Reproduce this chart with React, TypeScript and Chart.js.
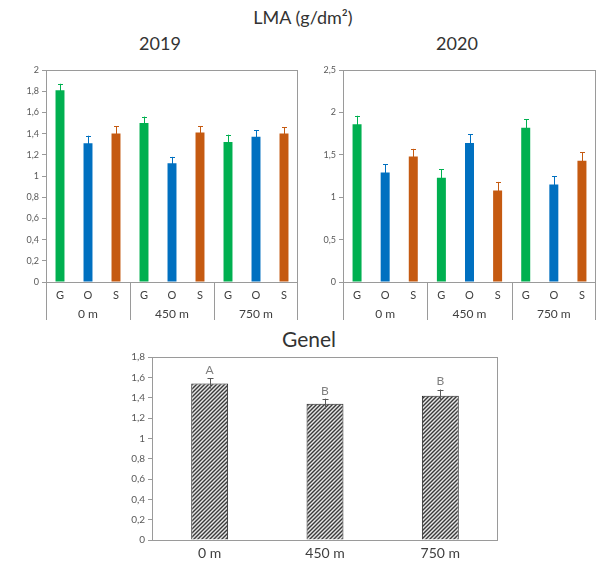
import React, { useEffect, useRef } from "react";
import { Chart, registerables } from "chart.js";

Chart.register(...registerables);

// Species within each site, and the sites themselves
const speciesLabels = ["G", "O", "S", "G", "O", "S", "G", "O", "S"];
const siteLabels = ["0 m", "450 m", "750 m"];

// Leaf mass per area, g/dm², with standard errors
const lma2019 = [1.81, 1.31, 1.4, 1.5, 1.12, 1.41, 1.32, 1.37, 1.4];
const err2019 = [0.06, 0.07, 0.07, 0.06, 0.06, 0.06, 0.07, 0.06, 0.06];
const lma2020 = [1.86, 1.29, 1.48, 1.23, 1.64, 1.08, 1.82, 1.15, 1.43];
const err2020 = [0.1, 0.1, 0.09, 0.1, 0.1, 0.1, 0.1, 0.1, 0.1];

const genelValues = [1.54, 1.34, 1.42];
const genelErrors = [0.05, 0.05, 0.06];
const genelLetters = ["A", "B", "B"];

const speciesColors = ["#00B050", "#0070C0", "#C55A11"];

const FONT = "Lato, 'Open Sans', sans-serif";
const AXIS_GREY = "#9a9a9a";
const TEXT_GREY = "#595959";

const commaFmt = (v: number | string) => {
  const n = Math.round(Number(v) * 10) / 10;
  return String(n).replace(".", ",");
};

// Error bars drawn above each bar, from dataset.errors
const errorBarPlugin = {
  id: "errorBars",
  afterDatasetsDraw(chart: any, _args: any, opts: any) {
    const { ctx } = chart;
    const yScale = chart.scales.y;
    chart.data.datasets.forEach((ds: any, di: number) => {
      if (!ds.errors) return;
      const meta = chart.getDatasetMeta(di);
      meta.data.forEach((bar: any, i: number) => {
        const v = ds.data[i];
        const e = ds.errors[i];
        const yTop = yScale.getPixelForValue(v + e);
        const yLow = yScale.getPixelForValue(v - e);
        const x = Math.round(bar.x) + 0.5;
        ctx.save();
        ctx.strokeStyle = ds.errorColor ? ds.errorColor[i] : "#777";
        ctx.lineWidth = 1;
        ctx.beginPath();
        ctx.moveTo(x, yLow);
        ctx.lineTo(x, yTop);
        const cap = opts && opts.cap ? opts.cap : 2.5;
        ctx.moveTo(x - cap, Math.round(yTop) + 0.5);
        ctx.lineTo(x + cap, Math.round(yTop) + 0.5);
        ctx.stroke();
        if (ds.letters) {
          ctx.fillStyle = "#7f7f7f";
          ctx.font = `12px ${FONT}`;
          ctx.textAlign = "center";
          ctx.textBaseline = "bottom";
          ctx.fillText(ds.letters[i], bar.x, yTop - 2);
        }
        ctx.restore();
      });
    });
  },
};

// Grey frame around the plotting area
const framePlugin = {
  id: "frame",
  afterDatasetsDraw(chart: any) {
    const { ctx, chartArea: a } = chart;
    ctx.save();
    ctx.strokeStyle = AXIS_GREY;
    ctx.lineWidth = 1;
    const l = Math.round(a.left) + 0.5;
    const t = Math.round(a.top) + 0.5;
    const r = Math.round(a.right) - 0.5;
    const b = Math.round(a.bottom) + 0.5;
    ctx.strokeRect(l, t, r - l, b - t);
    ctx.restore();
  },
};

// Second row of the category axis: site names with separators
const siteAxisPlugin = {
  id: "siteAxis",
  afterDraw(chart: any, _args: any, opts: any) {
    if (!opts || !opts.groups) return;
    const { ctx, chartArea: a } = chart;
    const groups: string[] = opts.groups;
    const w = (a.right - a.left) / groups.length;
    ctx.save();
    ctx.strokeStyle = AXIS_GREY;
    ctx.lineWidth = 1;
    ctx.beginPath();
    for (let i = 0; i <= groups.length; i++) {
      let x = Math.round(a.left + i * w) + 0.5;
      if (i === groups.length) x -= 1;
      ctx.moveTo(x, a.bottom);
      ctx.lineTo(x, a.bottom + 38);
    }
    ctx.stroke();
    ctx.fillStyle = "#404040";
    ctx.font = `12px ${FONT}`;
    ctx.textAlign = "center";
    ctx.textBaseline = "middle";
    groups.forEach((g, i) => {
      ctx.fillText(g, a.left + (i + 0.5) * w, a.bottom + 32);
    });
    ctx.restore();
  },
};

function makeHatch(): CanvasPattern | string {
  const c = document.createElement("canvas");
  c.width = 4;
  c.height = 4;
  const g = c.getContext("2d");
  if (!g) return "#777";
  g.fillStyle = "#e6e6e6";
  g.fillRect(0, 0, 4, 4);
  g.strokeStyle = "#3a3a3a";
  g.lineWidth = 1.4;
  g.beginPath();
  g.moveTo(0, 4);
  g.lineTo(4, 0);
  g.moveTo(-1, 1);
  g.lineTo(1, -1);
  g.moveTo(3, 5);
  g.lineTo(5, 3);
  g.stroke();
  const p = g.createPattern(c, "repeat");
  return p || "#777";
}

function yearConfig(values: number[], errors: number[], max: number, step: number, yWidth: number) {
  const colors = values.map((_, i) => speciesColors[i % 3]);
  return {
    type: "bar" as const,
    data: {
      labels: speciesLabels,
      datasets: [
        {
          data: values,
          errors,
          errorColor: colors,
          backgroundColor: colors,
          borderWidth: 0,
          barPercentage: 0.32,
          categoryPercentage: 1,
        } as any,
      ],
    },
    options: {
      animation: false,
      responsive: false,
      layout: { padding: { top: 15, right: 2, left: 0, bottom: 0 } },
      plugins: {
        legend: { display: false },
        tooltip: { enabled: false },
        siteAxis: { groups: siteLabels },
      },
      scales: {
        x: {
          grid: { display: false, drawTicks: false },
          border: { display: false },
          ticks: { font: { size: 11, family: FONT }, color: "#404040", padding: 7 },
          afterFit: (s: any) => {
            s.height = 43;
          },
        },
        y: {
          min: 0,
          max,
          ticks: {
            stepSize: step,
            font: { size: 9, family: FONT },
            color: TEXT_GREY,
            padding: 3,
            callback: (v: any) => commaFmt(v),
          },
          grid: { drawOnChartArea: false, tickLength: 4, color: AXIS_GREY },
          border: { color: AXIS_GREY },
          afterFit: (s: any) => {
            s.width = yWidth;
          },
        },
      },
    } as any,
    plugins: [framePlugin, errorBarPlugin, siteAxisPlugin],
  };
}

export default function App() {
  const ref2019 = useRef<HTMLCanvasElement>(null);
  const ref2020 = useRef<HTMLCanvasElement>(null);
  const refGenel = useRef<HTMLCanvasElement>(null);

  useEffect(() => {
    const charts: Chart[] = [];
    if (ref2019.current) {
      charts.push(new Chart(ref2019.current, yearConfig(lma2019, err2019, 2, 0.2, 46) as any));
    }
    if (ref2020.current) {
      charts.push(new Chart(ref2020.current, yearConfig(lma2020, err2020, 2.5, 0.5, 43) as any));
    }
    if (refGenel.current) {
      const hatch = makeHatch();
      charts.push(
        new Chart(refGenel.current, {
          type: "bar",
          data: {
            labels: siteLabels,
            datasets: [
              {
                data: genelValues,
                errors: genelErrors,
                errorColor: genelValues.map(() => "#595959"),
                letters: genelLetters,
                backgroundColor: hatch,
                borderColor: "#262626",
                borderWidth: 1,
                barPercentage: 0.32,
                categoryPercentage: 1,
              } as any,
            ],
          },
          options: {
            animation: false,
            responsive: false,
            layout: { padding: { top: 12, right: 22, left: 0, bottom: 0 } },
            plugins: {
              legend: { display: false },
              tooltip: { enabled: false },
              errorBars: { cap: 3 },
            },
            scales: {
              x: {
                grid: { display: false, drawTicks: false },
                border: { display: false },
                ticks: { font: { size: 14, family: FONT }, color: "#404040", padding: 5 },
                afterFit: (s: any) => {
                  s.height = 21;
                },
              },
              y: {
                min: 0,
                max: 1.8,
                ticks: {
                  stepSize: 0.2,
                  font: { size: 10, family: FONT },
                  color: TEXT_GREY,
                  padding: 3,
                  callback: (v: any) => commaFmt(v),
                },
                grid: { drawOnChartArea: false, tickLength: 4, color: AXIS_GREY },
                border: { color: AXIS_GREY },
                afterFit: (s: any) => {
                  s.width = 52;
                },
              },
            },
          } as any,
          plugins: [framePlugin, errorBarPlugin],
        })
      );
    }
    return () => charts.forEach((c) => c.destroy());
  }, []);

  const titleStyle: React.CSSProperties = {
    position: "absolute",
    transform: "translate(-50%, -50%)",
    fontFamily: FONT,
    color: "#333",
    whiteSpace: "nowrap",
    lineHeight: 1,
  };

  return (
    <div
      style={{
        position: "absolute",
        left: 0,
        top: 0,
        width: 598,
        height: 561,
        background: "#fff",
        overflow: "hidden",
      }}
    >
      <div style={{ ...titleStyle, left: 303, top: 17, fontSize: 18 }}>
        LMA (g/dm²)
      </div>
      <div style={{ ...titleStyle, left: 160, top: 43, fontSize: 18 }}>2019</div>
      <div style={{ ...titleStyle, left: 457, top: 43, fontSize: 18 }}>2020</div>
      <div style={{ ...titleStyle, left: 309, top: 338, fontSize: 21 }}>Genel</div>
      <canvas
        ref={ref2019}
        width={300}
        height={270}
        style={{ position: "absolute", left: 0, top: 55 }}
      />
      <canvas
        ref={ref2020}
        width={298}
        height={270}
        style={{ position: "absolute", left: 300, top: 55 }}
      />
      <canvas
        ref={refGenel}
        width={420}
        height={216}
        style={{ position: "absolute", left: 100, top: 345 }}
      />
    </div>
  );
}
